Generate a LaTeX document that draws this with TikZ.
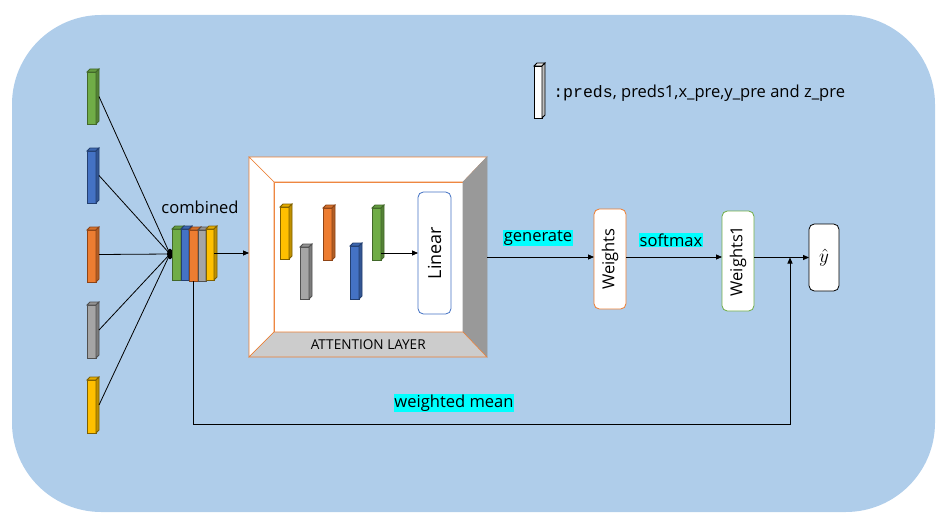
\documentclass[tikz,border=0pt]{standalone}
\usepackage{fontspec}
\setmainfont{Open Sans}
\setmonofont{Liberation Mono}
\usetikzlibrary{arrows.meta,calc,shapes.geometric}
\definecolor{bgblue}{HTML}{AFCDEA}
\definecolor{cgreen}{HTML}{70AD47}
\definecolor{egreen}{HTML}{42682A}
\definecolor{cblue}{HTML}{4472C4}
\definecolor{eblue}{HTML}{233F70}
\definecolor{corange}{HTML}{ED7D31}
\definecolor{eorange}{HTML}{8E4416}
\definecolor{cgray}{HTML}{A5A5A5}
\definecolor{egray}{HTML}{505050}
\definecolor{cyellow}{HTML}{FFC000}
\definecolor{eyellow}{HTML}{7F6000}
\definecolor{hl}{HTML}{00FFFF}
\tikzstyle{bar} = [rectangle, inner sep=0pt, outer sep=0pt, line width=0.6pt]
\tikzstyle{box} = [rectangle, rounded corners=4pt, fill=white, inner sep=0pt, outer sep=0pt, line width=0.6pt]
\tikzstyle{tag} = [fill=hl, inner sep=0.6pt]
\tikzstyle{arrow} = [line width=0.6pt, -{Triangle[length=4.5pt,width=3.8pt]}]
\tikzstyle{link} = [line width=0.6pt]
% 3d bar: name, x, y (front top left), width, height, fill, edge
\newcommand{\prism}[7]{%
  \node (#1) [bar, fill=#6, draw=#7, minimum width={#4*0.75pt}, minimum height={#5*0.75pt}, anchor=north west] at (#2,#3) {};
  \filldraw[fill=#6!90!black, draw=#7, line width=0.6pt] (#1.north west) -- ++(3,-3) -- ++(#4,0) -- (#1.north east) -- cycle;
  \filldraw[fill=#6!75!black, draw=#7, line width=0.6pt] (#1.north east) -- ++(3,-3) -- ++(0,#5) -- (#1.south east) -- cycle;
}

\begin{document}
\begin{tikzpicture}[x=0.75pt, y=-0.75pt, font=\fontsize{12.4}{14}\selectfont]
    \useasboundingbox (0,0) rectangle (949,528);
    \fill[bgblue, rounded corners=67pt] (12,15) rectangle (935,512);

    % inputs
    \prism{p1}{87}{72}{9}{52}{cgreen}{egreen}
    \prism{p2}{87}{151}{9}{52}{cblue}{eblue}
    \prism{p3}{87}{230}{9}{52}{corange}{eorange}
    \prism{p4}{87}{305}{9}{53}{cgray}{egray}
    \prism{p5}{87}{380}{9}{53}{cyellow}{eyellow}

    \node (hub) [ellipse, fill=black, minimum width=4.5pt, minimum height=8pt, inner sep=0pt] at (170,254) {};
    \foreach \i in {1,...,5}
        \draw [link] ($(p\i.east)+(3,-1.5)$) -- (hub.center);

    % combined
    \prism{c1}{172}{229}{9}{51}{cgreen}{egreen}
    \prism{c2}{181}{229}{8}{51}{cblue}{eblue}
    \prism{c3}{189}{230}{9}{51}{corange}{eorange}
    \prism{c4}{198}{230}{8}{51}{cgray}{egray}
    \prism{c5}{206}{229}{8}{51}{cyellow}{eyellow}
    \node (comb) at (200,207) {combined};

    % attention layer
    \node (att) [minimum width=178.5pt, minimum height=150pt, inner sep=0pt, outer sep=0pt] at (368,257) {};
    \node (front) [rectangle, fill=white, draw=corange, minimum width=141.75pt, minimum height=112.5pt, inner sep=0pt, outer sep=0pt] at (368.5,257) {};
    \filldraw[fill=white, draw=corange] (att.north west) -- (att.north east) -- (front.north east) -- (front.north west) -- cycle;
    \filldraw[fill=white, draw=corange] (att.north west) -- (front.north west) -- (front.south west) -- (att.south west) -- cycle;
    \filldraw[fill=black!40, draw=black!40] (att.north east) -- (att.south east) -- (front.south east) -- (front.north east) -- cycle;
    \filldraw[fill=black!20, draw=corange] (att.south west) -- (front.south west) -- (front.south east) -- (att.south east) -- cycle;
    \node (attlbl) [font=\fontsize{10.2}{12}\selectfont] at ($(front.south)!0.5!(att.south)$) {ATTENTION LAYER};

    \prism{a1}{280}{207}{9}{52}{cyellow}{eyellow}
    \prism{a2}{300}{247}{9}{52}{cgray}{egray}
    \prism{a3}{323}{208}{9}{52}{corange}{eorange}
    \prism{a4}{350}{246}{9}{53}{cblue}{eblue}
    \prism{a5}{372}{208}{9}{52}{cgreen}{egreen}
    \node (lin) [box, draw=cblue, minimum width=24.75pt, minimum height=91.5pt, font=\fontsize{13.5}{15}\selectfont] at (434.5,253) {\rotatebox{90}{Linear}};
    \draw [arrow] (a5.east |- lin.west) -- (lin.west);

    \draw [arrow] (c5.east |- 0,253) -- (att.west |- 0,253);

    % weights
    \node (w0) [box, draw=corange, minimum width=24pt, minimum height=75pt] at (610,259) {\rotatebox{90}{Weights}};
    \node (w1) [box, draw=cgreen, minimum width=24pt, minimum height=75pt] at (738,261) {\rotatebox{90}{Weights1}};
    \node (yhat) [box, draw=black, minimum width=22.5pt, minimum height=50.25pt, font=\fontsize{14}{16}\selectfont] at (824,257.5) {$\hat{y}$};

    \draw [arrow] (att.east) -- (att.east -| w0.west);
    \draw [arrow] (w0.east |- 0,257) -- (w1.west |- 0,257);
    \draw [arrow] (w1.east |- yhat.west) -- (yhat.west);

    \coordinate (mix) at ($(yhat.west)+(-19,0)$);
    \coordinate (low) at (790,424);
    \draw [arrow] (c3.south) |- (low) -- (mix);

    \node (gen) [tag] at (538,238) {generate};
    \node (soft) [tag] at (671,240) {softmax};
    \node (wmean) [tag] at (454,403) {weighted mean};

    % legend
    \prism{key}{534}{66}{8}{52}{white}{black}
    \node (keytxt) [anchor=west, inner sep=0pt] at (553,93) {\texttt{:preds}, preds1,x\_pre,y\_pre and z\_pre};
\end{tikzpicture}
\end{document}
